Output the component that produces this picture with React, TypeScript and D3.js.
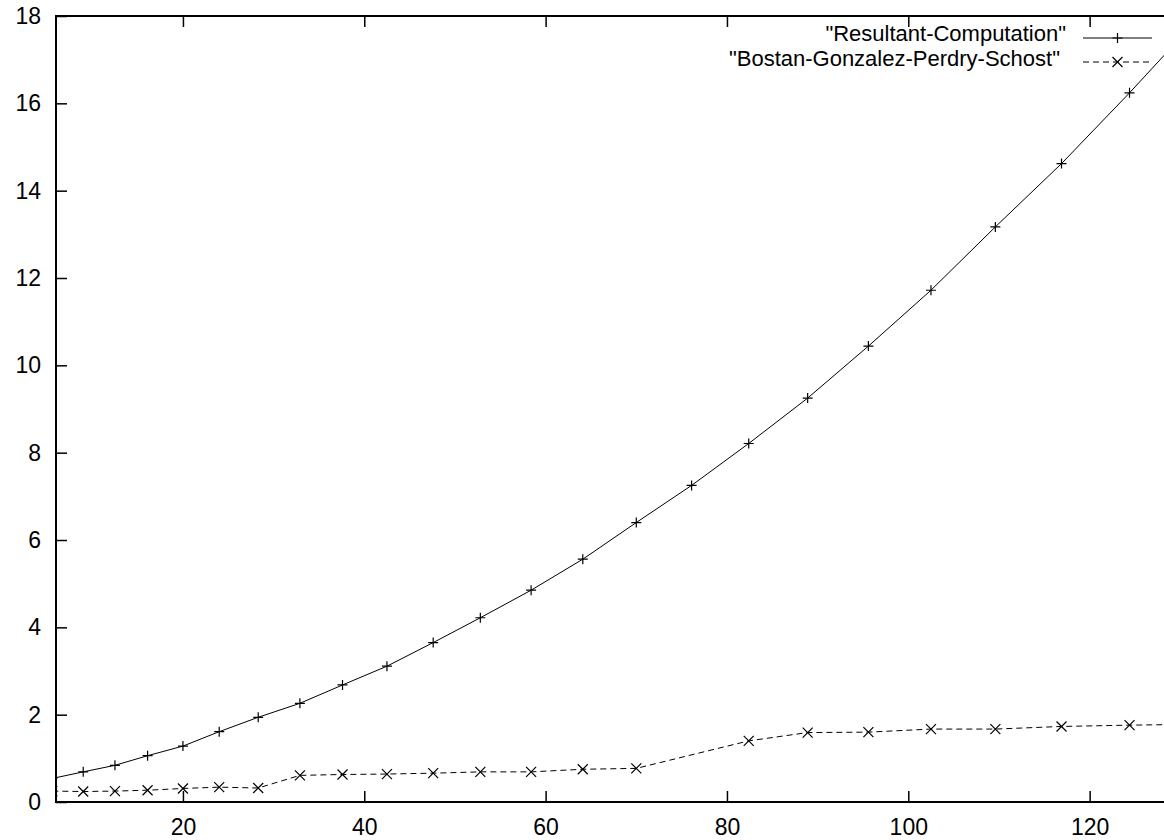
import React, { useEffect, useRef } from 'react';
import * as d3 from 'd3';

// problem size (x) shared by both series
const sizes = [5.6, 9, 12.5, 16.1, 20, 24, 28.3, 32.9, 37.6, 42.5, 47.6, 52.8, 58.4, 64.1, 70, 76.1, 82.4, 88.9, 95.6, 102.5, 109.6, 116.9, 124.4, 132];
const resultant = [0.54, 0.69, 0.84, 1.06, 1.28, 1.61, 1.94, 2.26, 2.68, 3.11, 3.65, 4.22, 4.85, 5.56, 6.40, 7.25, 8.21, 9.25, 10.44, 11.72, 13.17, 14.62, 16.24, 17.95];
const bgps = [0.25, 0.24, 0.25, 0.27, 0.31, 0.34, 0.32, 0.61, 0.63, 0.64, 0.66, 0.69, 0.69, 0.75, 0.77, null, 1.40, 1.59, 1.60, 1.67, 1.67, 1.73, 1.76, 1.78];
const seriesNames = ['"Resultant-Computation"', '"Bostan-Gonzalez-Perdry-Schost"'];
const xTicks = [20, 40, 60, 80, 100, 120];
const yTicks = [0, 2, 4, 6, 8, 10, 12, 14, 16, 18];

const W = 1164;
const H = 840;
const FONT = '"Liberation Sans", Arial, sans-serif';
const FONT_SIZE = '23px';

export default function App() {
  const svgRef = useRef<SVGSVGElement | null>(null);

  useEffect(() => {
    document.body.style.margin = '0';
    const svg = d3.select(svgRef.current);
    svg.selectAll('*').remove();

    const left = 56, top = 16, bottom = 802;
    const x = d3.scaleLinear().domain([6, 128.5]).range([left, 1166.7]);
    const y = d3.scaleLinear().domain([0, 18]).range([bottom, top]);

    svg.append('defs').append('clipPath').attr('id', 'plotclip')
      .append('rect')
      .attr('x', left).attr('y', top)
      .attr('width', x.range()[1] - left).attr('height', bottom - top);

    const series = [
      { name: seriesNames[0], values: resultant, dash: null, marker: 'plus' },
      { name: seriesNames[1], values: bgps, dash: '6,4', marker: 'cross' }
    ];

    const plot = svg.append('g').attr('clip-path', 'url(#plotclip)');
    const line = d3.line<[number, number]>().x(d => x(d[0])).y(d => y(d[1]));

    const drawMarker = (g: any, kind: string, cx: number, cy: number) => {
      const p = d3.path();
      if (kind === 'plus') {
        p.moveTo(cx - 5, cy); p.lineTo(cx + 5, cy);
        p.moveTo(cx, cy - 5); p.lineTo(cx, cy + 5);
      } else {
        p.moveTo(cx - 5, cy - 5); p.lineTo(cx + 5, cy + 5);
        p.moveTo(cx - 5, cy + 5); p.lineTo(cx + 5, cy - 5);
      }
      g.append('path').attr('d', p.toString()).attr('stroke', '#000').attr('stroke-width', 1.2).attr('fill', 'none');
    };

    series.forEach(s => {
      const pts = sizes
        .map((sz, i) => [sz, s.values[i]] as [number, number | null])
        .filter(d => d[1] != null) as [number, number][];
      plot.append('path')
        .datum(pts)
        .attr('d', line)
        .attr('fill', 'none')
        .attr('stroke', '#000')
        .attr('stroke-width', 1)
        .attr('stroke-dasharray', s.dash);
      pts.forEach(d => drawMarker(plot, s.marker, x(d[0]), y(d[1])));
    });

    // Axes (gnuplot style: inward ticks, mirrored on top)
    const gy = svg.append('g').attr('transform', `translate(${left},0)`)
      .call(d3.axisLeft(y).tickValues(yTicks).tickSize(-11).tickPadding(15).tickFormat(d3.format('d')));
    const gx = svg.append('g').attr('transform', `translate(0,${bottom})`)
      .call(d3.axisBottom(x).tickValues(xTicks).tickSize(-11).tickPadding(17).tickFormat(d3.format('d')));
    const gt = svg.append('g').attr('transform', `translate(0,${top})`)
      .call(d3.axisTop(x).tickValues(xTicks).tickSize(-11).tickFormat(() => ''));

    [gy, gx, gt].forEach(g => {
      g.select('.domain').remove();
      g.selectAll('.tick line').attr('stroke', '#000').attr('stroke-width', 1.5);
      g.selectAll('text').attr('fill', '#000').style('font-size', FONT_SIZE).style('font-family', FONT);
    });

    // Border
    svg.append('path')
      .attr('d', `M${x.range()[1] + 2},${top}H${left}V${bottom}H${x.range()[1] + 2}`)
      .attr('fill', 'none').attr('stroke', '#000').attr('stroke-width', 2);

    // Key
    const keyRows = [38, 62];
    const keyBaselines = [41, 66];
    const keyEnds = [1066, 1060];
    series.forEach((s, i) => {
      const ky = keyRows[i];
      svg.append('text')
        .attr('x', keyEnds[i]).attr('y', keyBaselines[i])
        .attr('text-anchor', 'end')
        .style('font-size', '22px').style('font-family', FONT)
        .text(s.name);
      svg.append('line')
        .attr('x1', 1083).attr('x2', 1152).attr('y1', ky).attr('y2', ky)
        .attr('stroke', '#000').attr('stroke-width', 1)
        .attr('stroke-dasharray', s.dash);
      drawMarker(svg, s.marker, 1117.5, ky);
    });
  }, []);

  return (
    <svg ref={svgRef} width={W} height={H} style={{ position: 'absolute', left: 0, top: 0, background: '#fff' }} />
  );
}
